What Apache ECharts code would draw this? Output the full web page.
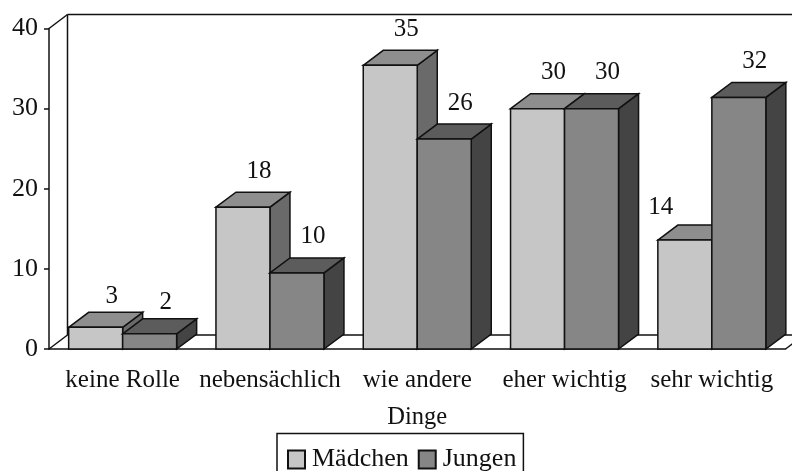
<!DOCTYPE html>
<html>
<head>
<meta charset="utf-8">
<script src="https://cdn.jsdelivr.net/npm/echarts@6/dist/echarts.min.js"></script>
<style>
  html, body { margin: 0; padding: 0; background: #fff; }
  #chart { width: 792px; height: 471px; }
</style>
</head>
<body>
<div id="chart"></div>
<script>
const categories = ["keine Rolle", "nebensächlich", "wie andere", "eher wichtig", "sehr wichtig"];
// bar heights as drawn, the printed numbers differ slightly
const maedchen = [2.7, 17.7, 35.4, 30, 13.6];
const jungen = [1.9, 9.5, 26.2, 30, 31.4];
const maedchenLabels = ["3", "18", "35", "30", "14"];
const jungenLabels = ["2", "10", "26", "30", "32"];

const FONT = "'Liberation Serif', serif";
const DX = 20;
const DY = -15;

function bar3d(colors, labels, seriesIndex) {
  return function (params, api) {
    const cat = api.value(0);
    const top = api.coord([cat, api.value(1)]);
    const base = api.coord([cat, 0]);
    const w = 54;
    const x0 = top[0] - w + seriesIndex * w;
    const x1 = x0 + w;
    const y0 = top[1];
    const y1 = base[1];
    const line = { stroke: "#111", lineWidth: 1.5 };
    // the "14" sits left of its bar in the original, clear of the neighbour
    const moved = seriesIndex === 0 && cat === 4;
    // labels on the two tiny bars sit closer to the bar
    const labelGap = moved ? 18 : cat === 0 ? 16 : 21;
    return {
      type: "group",
      children: [
        {
          type: "polygon",
          shape: { points: [[x1, y0], [x1 + DX, y0 + DY], [x1 + DX, y1 + DY], [x1, y1]] },
          style: Object.assign({ fill: colors[2] }, line),
        },
        {
          type: "polygon",
          shape: { points: [[x0, y0], [x0 + DX, y0 + DY], [x1 + DX, y0 + DY], [x1, y0]] },
          style: Object.assign({ fill: colors[1] }, line),
        },
        {
          type: "rect",
          shape: { x: x0, y: y0, width: w, height: y1 - y0 },
          style: Object.assign({ fill: colors[0] }, line),
        },
        {
          type: "text",
          x: (x0 + x1) / 2 + (moved ? -24 : 16),
          y: y0 + DY - labelGap,
          style: {
            text: labels[cat],
            font: "25px " + FONT,
            fill: "#111",
            align: "center",
            verticalAlign: "middle",
          },
        },
      ],
    };
  };
}

// back wall and floor of the fake 3d box
function frame(params) {
  const r = params.coordSys;
  const dx = 18.5;
  const dy = -14;
  const right = r.x + r.width;
  const bottom = r.y + r.height;
  const style = { stroke: "#111", lineWidth: 1.5, fill: null };
  const seg = (x1, y1, x2, y2) => ({
    type: "line",
    shape: { x1: x1, y1: y1, x2: x2, y2: y2 },
    style: style,
  });
  return {
    type: "group",
    children: [
      seg(r.x, r.y, r.x + dx, r.y + dy),
      seg(r.x, bottom, r.x + dx, bottom + dy),
      seg(r.x + dx, r.y + dy, r.x + dx, bottom + dy),
      seg(r.x + dx, r.y + dy, right + dx, r.y + dy),
      seg(r.x + dx, bottom + dy, right + dx, bottom + dy),
      seg(right, bottom, right + dx, bottom + dy),
    ],
  };
}

const chart = echarts.init(document.getElementById("chart"), null, { renderer: "canvas" });

chart.setOption({
  animation: false,
  backgroundColor: "#fff",
  grid: { left: 49, right: 6.5, top: 28.5, bottom: 122 },
  xAxis: {
    type: "category",
    data: categories,
    name: "Dinge",
    nameLocation: "middle",
    nameGap: 56,
    nameTextStyle: { color: "#111", fontFamily: FONT, fontSize: 24.5 },
    axisLine: { lineStyle: { color: "#111", width: 1.5 } },
    axisTick: { length: 5, lineStyle: { color: "#111", width: 1.5 } },
    axisLabel: { color: "#111", fontFamily: FONT, fontSize: 25, margin: 19, interval: 0 },
    splitLine: { show: false },
  },
  yAxis: {
    type: "value",
    min: 0,
    max: 40,
    interval: 10,
    axisLine: { show: true, lineStyle: { color: "#111", width: 1.5 } },
    axisTick: { show: true, length: 5, lineStyle: { color: "#111", width: 1.5 } },
    axisLabel: { color: "#111", fontFamily: FONT, fontSize: 26, margin: 11, padding: [3, 0, 0, 0] },
    splitLine: { show: false },
  },
  legend: {
    data: ["Mädchen", "Jungen"],
    left: 277,
    top: 433.5,
    padding: [13, 7, 13, 10],
    itemGap: 9,
    itemWidth: 17,
    itemHeight: 18,
    icon: "rect",
    borderColor: "#111",
    borderWidth: 1.5,
    selectedMode: false,
    textStyle: { color: "#111", fontFamily: FONT, fontSize: 26, padding: [0, 0, 0, 2] },
  },
  series: [
    {
      type: "custom",
      name: "frame",
      data: [0],
      z: 1,
      silent: true,
      renderItem: frame,
    },
    {
      type: "custom",
      name: "Mädchen",
      z: 2,
      silent: true,
      itemStyle: { color: "#c6c6c6", borderColor: "#111", borderWidth: 2 },
      data: maedchen.map((v, i) => [i, v]),
      encode: { x: 0, y: 1 },
      renderItem: bar3d(["#c6c6c6", "#8e8e8e", "#6a6a6a"], maedchenLabels, 0),
    },
    {
      type: "custom",
      name: "Jungen",
      z: 3,
      silent: true,
      itemStyle: { color: "#868686", borderColor: "#111", borderWidth: 2 },
      data: jungen.map((v, i) => [i, v]),
      encode: { x: 0, y: 1 },
      renderItem: bar3d(["#868686", "#5c5c5c", "#444444"], jungenLabels, 1),
    },
  ],
});

window.addEventListener("resize", () => chart.resize());
</script>
</body>
</html>
